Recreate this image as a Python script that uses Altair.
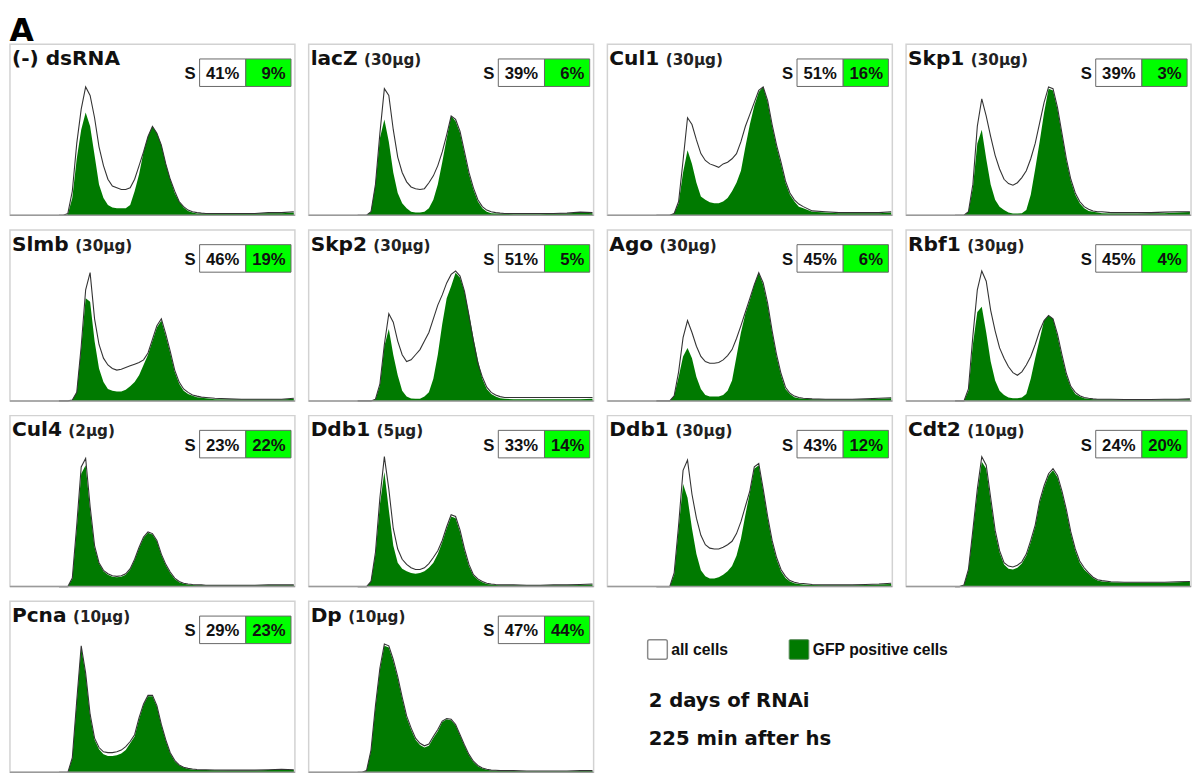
import altair as alt
import pandas as pd

# ---------------- data ----------------
CHANNEL = [44, 48, 52, 56, 60, 64, 68, 72, 76, 80, 84, 88, 92, 96, 100, 104, 108, 112,
           116, 120, 124, 128, 132, 136, 140, 144, 148, 152, 156, 160, 164, 168, 172, 176,
           184, 196, 208, 220, 232, 244, 255]

NAMES = ["(-) dsRNA", "lacZ", "Cul1", "Skp1", "Slmb", "Skp2", "Ago", "Rbf1",
         "Cul4", "Ddb1", "Ddb1", "Cdt2", "Pcna", "Dp"]
DOSES = ["", "(30μg)", "(30μg)", "(30μg)", "(30μg)", "(30μg)", "(30μg)", "(30μg)",
         "(2μg)", "(5μg)", "(30μg)", "(10μg)", "(10μg)", "(10μg)"]
S_ALL = ["41%", "39%", "51%", "39%", "46%", "51%", "45%", "45%",
         "23%", "33%", "43%", "24%", "29%", "47%"]
S_GFP = ["9%", "6%", "16%", "3%", "19%", "5%", "6%", "4%",
         "22%", "14%", "12%", "20%", "23%", "44%"]

DSRNA_ALL = [0, 0, 1, 14, 42, 62, 75, 70, 57, 40, 29, 21, 17, 16, 15, 15, 16, 21, 29, 37, 46, 52, 48, 41, 30, 21, 14, 8, 5, 3, 2, 1.5, 1.2, 1, 1, 1, 1, 1, 1.5, 1.5, 2]
DSRNA_GFP = [0, 0, 0.5, 10, 33, 50, 60, 52, 35, 18, 10, 6, 4.5, 4, 4, 4, 6, 14, 24, 37, 46, 52, 48, 41, 30, 21, 13, 8, 4.5, 2.5, 1.5, 1, 1, 0.8, 0.8, 0.8, 0.8, 1, 1.2, 1.2, 1.5]
LACZ_ALL = [0, 0, 0, 2, 18, 48, 74, 70, 50, 34, 25, 19.5, 16.5, 15.5, 15, 15.5, 19, 23, 29, 37, 47, 58, 56, 49, 37, 25, 16, 9, 5, 3, 2, 1.5, 1.2, 1, 1, 1, 1, 1, 1.2, 1.8, 1.5]
LACZ_GFP = [0, 0, 0, 2, 18, 45, 56, 43, 25, 13, 7, 4, 2, 1.5, 1.5, 2, 4, 9, 18, 31, 45, 58, 55, 48, 36, 24, 15, 8, 4, 2, 1.2, 1, 0.8, 0.8, 0.6, 0.6, 0.6, 0.8, 1, 1.5, 1.2]
CUL1_ALL = [0, 0, 0, 0, 1, 8, 32, 57, 53, 44, 36, 32, 30, 29, 28, 30, 31, 33, 36, 43, 52, 59, 66, 73, 75, 67, 53, 41, 31, 20, 13, 9, 6.5, 5, 2.5, 2, 1.5, 1.5, 1.5, 1.5, 2]
CUL1_GFP = [0, 0, 0, 0, 1, 7, 25, 38, 30, 19, 11, 9, 7.5, 7, 7, 8, 10, 14, 19, 26, 40, 53, 64, 72, 75, 66, 52, 40, 30, 19, 12, 8, 5, 4, 2, 1.5, 1.2, 1.2, 1.2, 1.2, 1.5]
SKP1_ALL = [0, 0, 0, 2, 18, 52, 68, 58, 46, 35, 27, 21, 18.5, 17.5, 19, 22, 26, 33, 42, 54, 66, 75, 74, 63, 48, 33, 21, 13, 8, 5, 3.5, 2.5, 2, 2, 1.5, 1.5, 1.5, 1.5, 1.8, 2, 2]
SKP1_GFP = [0, 0, 0, 2, 16, 42, 50, 33, 18, 9, 5, 3, 1.5, 1, 1, 1.2, 3, 12, 27, 43, 60, 74, 73, 62, 47, 32, 20, 12, 7, 4, 2.5, 2, 1.5, 1.2, 1, 1, 1, 1.2, 1.2, 1.5, 1.8]
SLMB_ALL = [0, 0, 0, 0.5, 5, 32, 65, 75, 48, 33, 25, 21, 19, 18, 18.5, 19.5, 20.5, 21.5, 22.5, 24, 28, 36, 44, 48, 39, 29, 18, 11, 7, 5, 3.5, 2.8, 2.2, 2, 1.5, 1.2, 1, 1, 1, 1, 1.5]
SLMB_GFP = [0, 0, 0, 0.5, 5, 31, 60, 58, 35, 19, 11, 7, 6, 5.5, 5.5, 6.5, 8.5, 11, 15, 21, 27, 35, 43, 47, 38, 28, 17, 10, 6, 4, 3, 2.2, 1.8, 1.5, 1, 0.8, 0.8, 0.8, 0.8, 0.8, 1.2]
SKP2_ALL = [0, 0, 0, 0, 1, 10, 33, 51, 46, 35, 27, 23, 24, 27, 30, 35, 40, 48, 56, 62, 69, 74, 76, 73, 64, 50, 35, 22, 14, 8, 5, 3.5, 2.5, 2, 2, 2, 2, 2, 2, 2, 2]
SKP2_GFP = [0, 0, 0, 0, 1, 9, 32, 42, 27, 15, 6, 2.5, 1.4, 1.2, 1.3, 2.5, 5, 13, 27, 45, 60, 67, 75, 72, 64, 51, 37, 24, 13, 7, 4, 2.5, 1.5, 1.2, 1, 1, 1, 1, 1, 1, 1.2]
AGO_ALL = [0, 0, 0, 0, 3, 17, 37, 47, 40, 32, 26, 23, 22, 22, 22.5, 24, 26.5, 30, 36.5, 44, 52, 60, 68, 75, 69, 57, 41, 27, 16, 8, 4.5, 2.8, 2, 1.5, 1.2, 1, 1, 1, 1.2, 1.5, 1.8]
AGO_GFP = [0, 0, 0, 0, 3, 14, 26, 31, 25, 14, 7, 3.5, 2.5, 2.5, 2.5, 3.5, 6, 12, 26, 40, 51, 59, 68, 75, 68, 56, 40, 26, 15, 7, 4, 2.2, 1.5, 1.2, 1, 0.8, 0.8, 0.8, 1, 1.2, 1.5]
RBF1_ALL = [0, 0, 0, 7, 38, 65, 76, 70, 53, 41, 31, 25, 20, 16.5, 15, 17, 21, 26, 33, 41, 47, 50, 48, 39, 27, 16, 8.5, 5, 3, 2, 1.5, 1.2, 1, 1, 1, 0.8, 0.8, 0.8, 1, 1, 1.2]
RBF1_GFP = [0, 0, 0, 6, 33, 52, 55, 40, 23, 12, 6, 3.5, 2, 1.5, 1.5, 2, 4, 13, 25, 36, 47, 50, 48, 38, 26, 15, 8, 4, 2.5, 1.5, 1.2, 1, 0.8, 0.8, 0.8, 0.6, 0.6, 0.6, 0.8, 0.8, 1]
CUL4_ALL = [0, 0, 0, 5, 36, 70, 75, 47, 24, 14, 9.5, 7.5, 6.3, 6, 6.3, 7.5, 10.5, 16, 23, 29, 32, 31, 27, 19, 13, 8.5, 5, 3, 2, 1.5, 1.2, 1, 1, 0.8, 0.8, 0.8, 0.8, 0.8, 1, 1, 1]
CUL4_GFP = [0, 0, 0, 4.5, 34, 66, 71, 45, 23, 13.5, 9, 7, 5.8, 5.5, 5.8, 7, 10, 15.5, 22.5, 28.5, 31.5, 30.5, 26.5, 18.5, 12.5, 8, 4.5, 2.5, 1.6, 1.2, 1, 0.8, 0.8, 0.6, 0.6, 0.6, 0.6, 0.6, 0.8, 0.8, 0.8]
DDB1A_ALL = [0, 0, 0, 3, 20, 52, 76, 57, 34, 22, 16, 13, 11, 10, 10, 11, 13.5, 17, 21, 27, 35, 42, 41, 33, 22, 13, 7, 4.5, 3, 2, 1.5, 1.2, 1, 1, 1, 0.8, 0.8, 1, 1, 1.2, 1.5]
DDB1A_GFP = [0, 0, 0, 3, 19, 48, 67, 45, 24, 14, 10.5, 9, 8, 7.5, 8, 9, 11, 14, 19, 26, 34, 41, 40, 32, 21, 12, 6.5, 4, 2.5, 1.5, 1.2, 1, 0.8, 0.8, 0.8, 0.6, 0.6, 0.8, 0.8, 1, 1.2]
DDB1B_ALL = [0, 0, 0, 0, 8, 36, 68, 74, 54, 40, 30, 24.5, 22.5, 22, 22, 23, 24.5, 26.5, 31, 38, 47, 56, 70, 72, 57, 41, 27, 17, 10, 6, 3.5, 2.5, 2, 1.8, 1.2, 1, 1, 1, 1.2, 1.5, 2]
DDB1B_GFP = [0, 0, 0, 0, 7, 34, 60, 52, 34, 19, 9.5, 6, 4.8, 4.8, 5.5, 7, 9, 12, 18, 28, 42, 55, 69, 71, 56, 40, 26, 16, 9, 5, 3, 2, 1.5, 1.2, 1, 0.8, 0.8, 0.8, 1, 1.2, 1.5]
CDT2_ALL = [0, 0, 1, 10, 33, 57, 76, 71, 52, 33, 21, 14, 12, 11.5, 12.5, 14.5, 19, 27, 36, 50, 59, 66, 69, 65, 56, 45, 32, 22, 15, 11, 8, 5.5, 4, 3.5, 2.8, 2.5, 2.5, 2.5, 2.5, 2.8, 3]
CDT2_GFP = [0, 0, 1, 9.5, 32, 55, 73, 69, 50, 31.5, 20, 13, 10.5, 10, 11, 13.5, 18, 26, 35, 49, 58, 65, 68, 64, 55, 44, 31, 21, 14, 10, 7.5, 5, 3.5, 3, 2.5, 2.2, 2.2, 2.2, 2.2, 2.5, 2.8]
PCNA_ALL = [0, 0, 0, 8.5, 42, 74, 58, 34, 20, 14.5, 12, 11.5, 11.5, 12, 13, 15, 18, 22, 32, 40, 45, 45, 39, 28, 19, 11.5, 7, 4.3, 3, 2.3, 1.9, 1.6, 1.5, 1.5, 1.4, 1.3, 1.3, 1.3, 1.5, 1.8, 1.5]
PCNA_GFP = [0, 0, 0, 8, 41, 73, 57, 33, 19, 13.5, 10.5, 9.5, 9.5, 10, 11, 13, 17, 21, 31, 39.5, 44.5, 44.5, 38.5, 27.5, 18.5, 11, 6.5, 4, 2.8, 2, 1.7, 1.4, 1.3, 1.3, 1.2, 1.1, 1.1, 1.1, 1.3, 1.6, 1.3]
DP_ALL = [0, 0, 1, 13, 39, 61, 75, 74, 66, 56, 44, 33, 26, 20, 17, 15.5, 16.5, 21, 25, 30, 31.5, 31, 28, 22, 16, 10.5, 6.5, 4, 2.5, 1.8, 1.3, 1.2, 1, 1, 1, 0.8, 0.8, 0.8, 0.8, 1, 1]
DP_GFP = [0, 0, 1, 12.5, 38, 60, 74, 73, 65, 55, 43, 32, 25, 19, 16, 14.5, 15.5, 20, 24, 29.5, 31, 30.5, 27.5, 21.5, 15.5, 10, 6, 3.5, 2.2, 1.5, 1.1, 1, 0.8, 0.8, 0.8, 0.6, 0.6, 0.6, 0.6, 0.8, 0.8]

ALL_CELLS = [DSRNA_ALL, LACZ_ALL, CUL1_ALL, SKP1_ALL, SLMB_ALL, SKP2_ALL, AGO_ALL, RBF1_ALL,
             CUL4_ALL, DDB1A_ALL, DDB1B_ALL, CDT2_ALL, PCNA_ALL, DP_ALL]
GFP_CELLS = [DSRNA_GFP, LACZ_GFP, CUL1_GFP, SKP1_GFP, SLMB_GFP, SKP2_GFP, AGO_GFP, RBF1_GFP,
             CUL4_GFP, DDB1A_GFP, DDB1B_GFP, CDT2_GFP, PCNA_GFP, DP_GFP]

LEGEND_LABELS = ["all cells", "GFP positive cells"]
NOTES = ["2 days of RNAi", "225 min after hs"]

# ---------------- style ----------------
W, H = 290, 174
GREEN = "#007a00"
LIME = "#00ff00"
FONT = "DejaVu Sans"
NUMFONT = "Liberation Sans"

# approximate DejaVu Sans Bold advance widths (em) for placing the dose label
CW = {'(': 0.457, '-': 0.415, ')': 0.457, ' ': 0.348, 'd': 0.716, 's': 0.595, 'R': 0.770,
      'N': 0.837, 'A': 0.774, 'l': 0.343, 'a': 0.675, 'c': 0.593, 'Z': 0.725, 'C': 0.734,
      'u': 0.712, '1': 0.696, '2': 0.696, '4': 0.696, 'S': 0.720, 'k': 0.665, 'p': 0.716,
      'b': 0.716, 'm': 1.042, 'g': 0.716, 'o': 0.687, 'f': 0.435, 'D': 0.830, 't': 0.478,
      'P': 0.733, 'n': 0.712}
NAME_SIZE = 20.5


def text_width(s, size):
    return sum(CW.get(c, 0.65) for c in s) * size


def panel(i):
    curve = pd.DataFrame({"ch": CHANNEL, "all": ALL_CELLS[i], "gfp": GFP_CELLS[i]})
    info = pd.DataFrame({"name": [NAMES[i]], "dose": [DOSES[i]],
                         "s_all": [S_ALL[i]], "s_gfp": [S_GFP[i]]})
    xs = alt.X("ch:Q", scale=alt.Scale(domain=[0, 256], nice=False, zero=False), axis=None)
    ys = alt.Scale(domain=[0, 100], nice=False)
    area = alt.Chart(curve).mark_area(color=GREEN, opacity=1).encode(
        x=xs, y=alt.Y("gfp:Q", scale=ys, axis=None))
    line = alt.Chart(curve).mark_line(color="#333333", strokeWidth=1.1).encode(
        x=xs, y=alt.Y("all:Q", scale=ys, axis=None))
    ic = alt.Chart(info)
    base = ic.mark_rule(color="#9a9a9a", strokeWidth=1.5).encode(
        x=alt.value(0), x2=alt.value(W), y=alt.value(H))
    name = ic.mark_text(align="left", baseline="alphabetic", font=FONT, fontWeight="bold",
                        fontSize=NAME_SIZE, color="#111111").encode(
        x=alt.value(2), y=alt.value(21), text="name:N")
    dose_x = 2 + text_width(NAMES[i], NAME_SIZE) + 6.5
    dose = ic.mark_text(align="left", baseline="alphabetic", font=FONT, fontWeight="bold",
                        fontSize=15.5, color="#222222").encode(
        x=alt.value(dose_x), y=alt.value(21), text="dose:N")
    box_w = ic.mark_rect(fill="white", stroke="#666666", strokeWidth=1).encode(
        x=alt.value(193), x2=alt.value(240), y=alt.value(15), y2=alt.value(43))
    box_g = ic.mark_rect(fill=LIME, stroke="#666666", strokeWidth=1).encode(
        x=alt.value(240), x2=alt.value(286), y=alt.value(15), y2=alt.value(43))
    s_lbl = ic.mark_text(align="right", baseline="alphabetic", font=NUMFONT, fontWeight="bold",
                         fontSize=17, color="#111111").encode(
        x=alt.value(189), y=alt.value(35.5), text=alt.value("S"))
    t_all = ic.mark_text(align="right", baseline="alphabetic", font=NUMFONT, fontWeight="bold",
                         fontSize=17, color="#111111").encode(
        x=alt.value(233.5), y=alt.value(35.5), text="s_all:N")
    t_gfp = ic.mark_text(align="right", baseline="alphabetic", font=NUMFONT, fontWeight="bold",
                         fontSize=17, color="#111111").encode(
        x=alt.value(280.5), y=alt.value(35.5), text="s_gfp:N")
    return alt.layer(area, line, base, name, dose, box_w, box_g, s_lbl, t_all, t_gfp).properties(
        width=W, height=H)


def legend_panel():
    lab0 = alt.Chart(pd.DataFrame({"label": [LEGEND_LABELS[0]]}))
    lab1 = alt.Chart(pd.DataFrame({"label": [LEGEND_LABELS[1]]}))
    n0 = alt.Chart(pd.DataFrame({"note": [NOTES[0]]}))
    n1 = alt.Chart(pd.DataFrame({"note": [NOTES[1]]}))
    sq0 = lab0.mark_rect(fill="white", stroke="#8a8a8a", strokeWidth=1.5, cornerRadius=2).encode(
        x=alt.value(42), x2=alt.value(62), y=alt.value(39), y2=alt.value(59))
    sq1 = lab1.mark_rect(fill=GREEN, stroke="#5a8a5a", strokeWidth=1, cornerRadius=1).encode(
        x=alt.value(186), x2=alt.value(206), y=alt.value(39), y2=alt.value(59))
    tx0 = lab0.mark_text(align="left", baseline="middle", font=NUMFONT, fontWeight="bold",
                         fontSize=16, color="#111111").encode(
        x=alt.value(66), y=alt.value(50), text="label:N")
    tx1 = lab1.mark_text(align="left", baseline="middle", font=NUMFONT, fontWeight="bold",
                         fontSize=16, color="#111111").encode(
        x=alt.value(210), y=alt.value(50), text="label:N")
    nt0 = n0.mark_text(align="left", baseline="alphabetic", font=FONT, fontWeight="bold",
                       fontSize=20, color="#111111").encode(
        x=alt.value(43), y=alt.value(108), text="note:N")
    nt1 = n1.mark_text(align="left", baseline="alphabetic", font=FONT, fontWeight="bold",
                       fontSize=20, color="#111111").encode(
        x=alt.value(43), y=alt.value(146), text="note:N")
    return alt.layer(sq0, sq1, tx0, tx1, nt0, nt1).properties(
        width=2 * W + 10, height=H, view=alt.ViewBackground(stroke="transparent"))


rows = [alt.hconcat(*[panel(r * 4 + c) for c in range(4)], spacing=10) for r in range(3)]
rows.append(alt.hconcat(panel(12), panel(13), legend_panel(), spacing=10))

chart = alt.vconcat(*rows, spacing=11).properties(
    title=alt.TitleParams("A", anchor="start", fontSize=32, font=FONT, fontWeight="bold",
                          color="#000000", offset=-4, dx=1),
    padding=0,
).configure_view(stroke="#d2d2d2", strokeWidth=1.5)

chart.save("out.html", embed_options={"renderer": "svg", "actions": False})
